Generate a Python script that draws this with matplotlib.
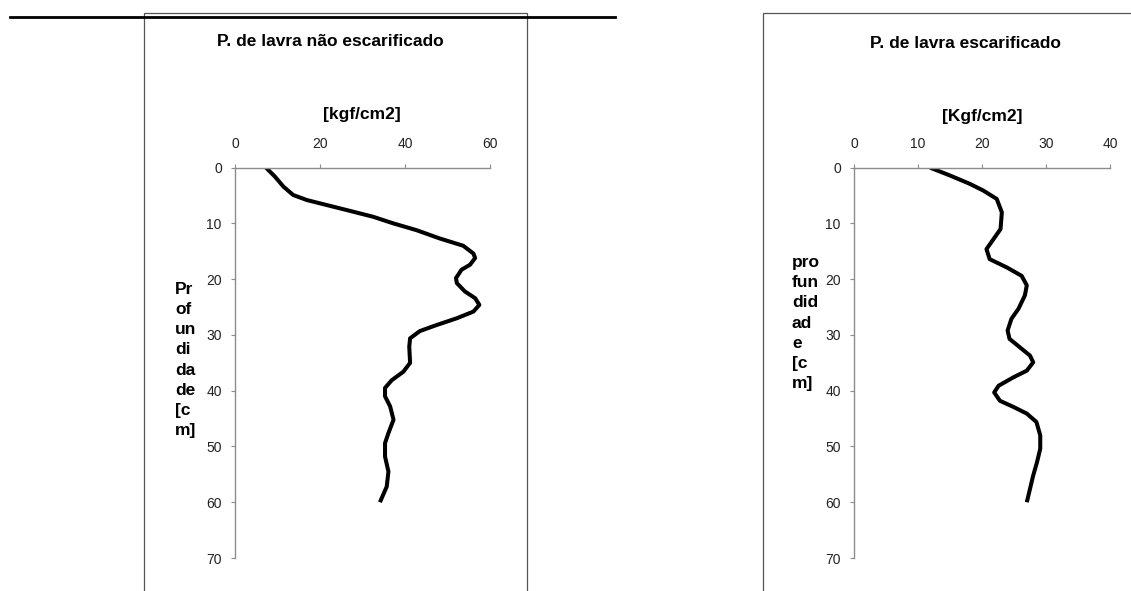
import matplotlib
matplotlib.use('Agg')
import matplotlib.pyplot as plt
from matplotlib.lines import Line2D
from matplotlib.patches import Rectangle

plt.rcParams['font.family'] = ['Liberation Sans', 'DejaVu Sans']

# dados: penetrometria, profundidade [cm] x resistência [kgf/cm2]
prof_nao = [0, 1.6, 3.4, 4.9, 5.8, 6.7, 7.6, 8.8, 10, 11.2, 12.7, 14, 15.4, 16.2,
            17.4, 18.3, 19.8, 20.7, 22.2, 23.4, 24.6, 25.8, 27, 28.2, 29.3, 30.6,
            32.1, 35, 36.6, 38.1, 39.5, 41, 42.8, 45.2, 47.6, 49.4, 51.8, 54.5,
            57.2, 60]
res_nao = [7.3, 9.4, 11.4, 13.7, 16.9, 21.6, 26.3, 32.5, 37.3, 42.7, 48.2, 53.7,
           56.1, 56.5, 55.3, 53.3, 52, 52.2, 54.1, 56.5, 57.5, 56.1, 52.2, 47.5,
           43.5, 41.2, 41, 41.2, 39.6, 36.9, 35.3, 35.3, 36.5, 37.3, 36.1, 35.3,
           35.3, 36.1, 35.7, 34.1]

prof_esc = [0, 1.4, 2.9, 4.1, 5.6, 8.0, 11.0, 12.8, 14.6, 16.4, 17.9, 19.4, 21.1,
            22.9, 25.3, 27.1, 29.2, 30.7, 32.2, 33.7, 34.9, 36.4, 37.6, 39.1, 40.3,
            41.8, 42.9, 44.1, 45.6, 48.0, 50.4, 52.8, 55.2, 57.6, 60.0]
res_esc = [11.9, 15, 18.1, 20.2, 22.3, 23.1, 22.9, 21.8, 20.7, 21.2, 23.9, 26.2,
           27.0, 26.7, 25.7, 24.6, 24.0, 24.3, 25.9, 27.5, 28.0, 27.0, 24.9, 22.6,
           21.9, 22.8, 24.9, 27.0, 28.5, 29.1, 29.1, 28.6, 28.0, 27.5, 27.0]

xticks_nao = [0, 20, 40, 60]
xticks_esc = [0, 10, 20, 30, 40]
yticks = [0, 10, 20, 30, 40, 50, 60, 70]

W, H = 1131, 591
fig = plt.figure(figsize=(W / 100, H / 100), dpi=100)


def fx(x):
    return x / W


def fy(y):
    return 1 - y / H


def painel(x0, x1, xs, ys, xt, xmax):
    ax = fig.add_axes([fx(x0), fy(558), fx(x1 - x0), (558 - 167.7) / H])
    ax.plot(xs, ys, color='black', lw=2.9, solid_joinstyle='round',
            solid_capstyle='butt')
    ax.set_xlim(0, xmax)
    ax.set_ylim(70, 0)
    ax.set_xticks(xt)
    ax.set_yticks(yticks)
    ax.xaxis.tick_top()
    for s in ['bottom', 'right']:
        ax.spines[s].set_visible(False)
    for s in ['top', 'left']:
        ax.spines[s].set_color('#8c8c8c')
        ax.spines[s].set_linewidth(1.0)
    ax.tick_params(axis='x', direction='out', length=3, width=0.8,
                   color='#8c8c8c', pad=9, labelsize=10, labelcolor='#222222')
    ax.tick_params(axis='y', direction='out', length=3, width=0.8,
                   color='#8c8c8c', pad=6.5, labelsize=10, labelcolor='#222222')
    ax.patch.set_visible(False)
    return ax


painel(235, 490, res_nao, prof_nao, xticks_nao, 60)
painel(854, 1110, res_esc, prof_esc, xticks_esc, 40)

# molduras
fig.add_artist(Rectangle((fx(143.5), fy(600)), fx(527 - 143.5), (600 - 12.7) / H,
                         fill=False, edgecolor='#555555', lw=0.9,
                         transform=fig.transFigure, clip_on=False))
fig.add_artist(Rectangle((fx(763), fy(600)), fx(400), (600 - 12.7) / H,
                         fill=False, edgecolor='#555555', lw=0.9,
                         transform=fig.transFigure, clip_on=False))
fig.add_artist(Line2D([fx(10), fx(615)], [fy(16.5), fy(16.5)], color='black',
                      lw=2.0, transform=fig.transFigure))

# textos
fig.text(fx(330), fy(42), 'P. de lavra não escarificado', ha='center',
         va='center', fontsize=12.5, fontweight='bold')
fig.text(fx(362), fy(115), '[kgf/cm2]', ha='center', va='center',
         fontsize=12.5, fontweight='bold')
fig.text(fx(175), fy(360), 'Pr\nof\nun\ndi\nda\nde\n[c\nm]', ha='left',
         va='center', fontsize=12.5, fontweight='bold', linespacing=1.42)

fig.text(fx(965), fy(43), 'P. de lavra escarificado', ha='center',
         va='center', fontsize=12.5, fontweight='bold')
fig.text(fx(982), fy(116), '[Kgf/cm2]', ha='center', va='center',
         fontsize=12.5, fontweight='bold')
fig.text(fx(792), fy(323), 'pro\nfun\ndid\nad\ne\n[c\nm]', ha='left',
         va='center', fontsize=12.5, fontweight='bold', linespacing=1.42)

fig.savefig('out.png', dpi=100)
